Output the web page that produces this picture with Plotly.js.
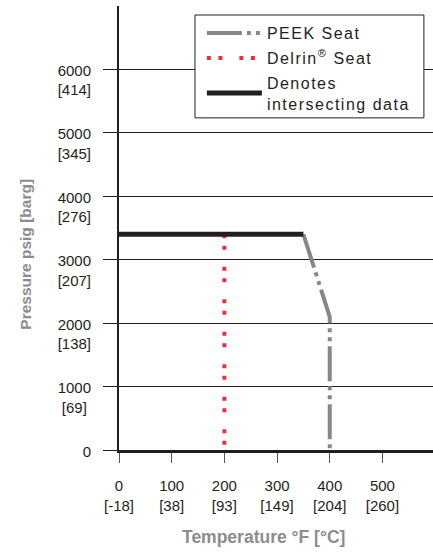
<!DOCTYPE html>
<html>
<head>
<meta charset="utf-8">
<script src="https://cdn.plot.ly/plotly-3.0.1.min.js"></script>
<style>
html,body{margin:0;padding:0;background:#fff;}
.legendtext{letter-spacing:1.5px;}
</style>
</head>
<body>
<div id="chart" style="width:433px;height:552px;"></div>
<script>
// Data
const blackX = [0, 350];
const blackY = [3400, 3400];
const peekX = [350, 400, 400];
const peekY = [3400, 2100, 0];
const delrinX = [200, 200];
const delrinY = [3400, 0];

const xTickVals = [0, 100, 200, 300, 400, 500];
const xTickText = ['0<br>[-18]', '100<br>[38]', '200<br>[93]', '300<br>[149]', '400<br>[204]', '500<br>[260]'];
const yTickVals = [0, 1000, 2000, 3000, 4000, 5000, 6000];
const yTickText = ['0<br>\u00a0', '1000<br>[69]\u00a0', '2000<br>[138]', '3000<br>[207]', '4000<br>[276]', '5000<br>[345]', '6000<br>[414]'];

const tickFont = {family: 'Liberation Sans, Arial, sans-serif', size: 15, color: '#231f20'};
const xTitleFont = {family: 'Liberation Sans, Arial, sans-serif', size: 17.5, color: '#8c8c8e', weight: 'bold'};
const yTitleFont = {family: 'Liberation Sans, Arial, sans-serif', size: 15.5, color: '#8c8c8e', weight: 'bold'};

const traces = [
  {x: delrinX, y: delrinY, mode: 'lines', name: 'Delrin<sup>®</sup> Seat', legendrank: 2, legendgroup: 'b',
   line: {color: '#ec2f3b', width: 4, dash: '4px,7.5px,4px,17px'}},
  {x: peekX, y: peekY, mode: 'lines', name: 'PEEK Seat', legendrank: 1, legendgroup: 'a',
   line: {color: '#87878a', width: 4, dash: '35px,5px,4px,5px,4px,5px'}},
  {x: blackX, y: blackY, mode: 'lines', name: 'Denotes<br>intersecting data', legendrank: 3, legendgroup: 'c',
   line: {color: '#231f20', width: 5}}
];

const layout = {
  width: 433, height: 552,
  margin: {l: 119, r: 0, t: 6, b: 102},
  paper_bgcolor: '#fff', plot_bgcolor: '#fff',
  showlegend: true,
  legend: {x: 0.264, y: 0.977, xanchor: 'left', yanchor: 'top', bgcolor: 'rgba(0,0,0,0)',
    borderwidth: 0, itemwidth: 55, tracegroupgap: 1,
    traceorder: 'grouped',
    font: {family: 'Liberation Sans, Arial, sans-serif', size: 16, color: '#231f20'}},
  shapes: [
    {type: 'rect', xref: 'paper', yref: 'paper', x0: 0.242, x1: 0.971, y0: 0.748, y1: 0.9797,
     fillcolor: '#fff', line: {color: '#231f20', width: 1}, layer: 'above'}
  ],
  xaxis: {range: [0, 596], tickvals: xTickVals, ticktext: xTickText, tickfont: tickFont,
    showgrid: false, zeroline: false, showline: true, linecolor: '#231f20', linewidth: 3,
    ticks: 'outside', ticklen: 10, tickcolor: '#555', tickwidth: 1, ticklabelstandoff: 10, fixedrange: true},
  yaxis: {range: [0, 7000], tickvals: yTickVals, ticktext: yTickText, tickfont: tickFont,
    showgrid: true, gridcolor: '#231f20', gridwidth: 1, zeroline: false,
    showline: true, linecolor: '#231f20', linewidth: 2,
    ticks: 'outside', ticklen: 14, tickcolor: '#231f20', tickwidth: 1,
    ticklabelstandoff: 9, ticklabelshift: 11, fixedrange: true},
  annotations: [
    {text: 'Temperature °F [°C]', xref: 'paper', yref: 'paper', x: 0.459, y: -0.196,
     xanchor: 'center', yanchor: 'middle', showarrow: false, font: xTitleFont},
    {text: 'Pressure psig [barg]', xref: 'paper', yref: 'paper', x: -0.296, y: 0.44,
     xanchor: 'center', yanchor: 'middle', textangle: -90, showarrow: false, font: yTitleFont}
  ]
};

Plotly.newPlot('chart', traces, layout, {staticPlot: true, displayModeBar: false});
</script>
</body>
</html>
